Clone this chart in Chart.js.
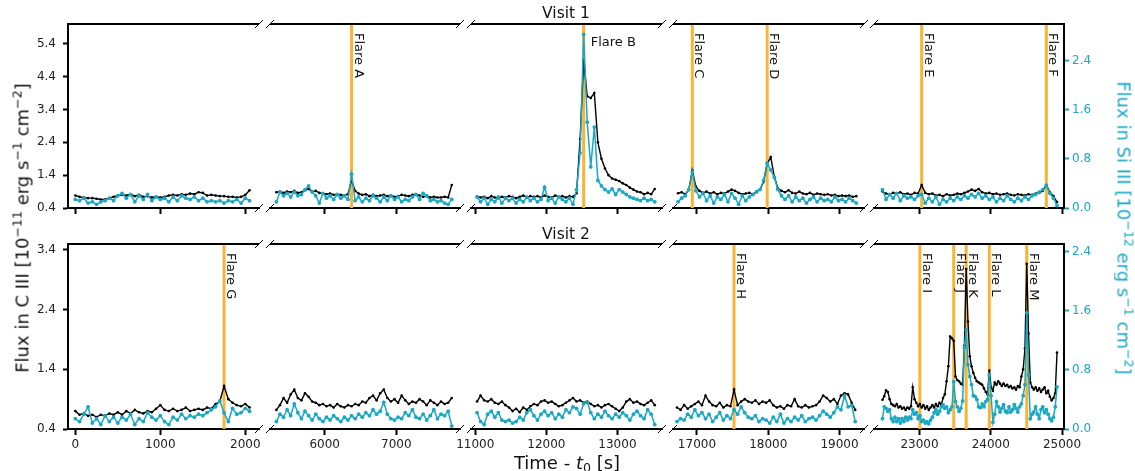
<!DOCTYPE html>
<html>
<head>
<meta charset="utf-8">
<script src="https://cdn.jsdelivr.net/npm/chart.js@4.4.0/dist/chart.umd.min.js"></script>
<style>
body { margin: 0; background: #fff; width: 1135px; height: 471px; position: relative; overflow: hidden; font-family: 'DejaVu Sans', sans-serif; }
canvas { position: absolute; }
.lbl { position: absolute; white-space: nowrap; color: #111; transform: translate(-50%, -50%); z-index: 5; }
sup { font-size: 70%; vertical-align: 0.55em; line-height: 0; }
sub { font-size: 70%; vertical-align: -0.25em; line-height: 0; }
</style>
</head>
<body>
<div class="lbl" style="left:566px;top:13px;font-size:15.5px">Visit 1</div>
<div class="lbl" style="left:566px;top:234px;font-size:15.5px">Visit 2</div>
<div class="lbl" style="left:567px;top:462px;font-size:18px">Time - <i>t</i><sub>0</sub> [s]</div>
<div class="lbl" style="left:22px;top:228px;font-size:18px;transform:translate(-50%,-50%) rotate(-90deg)">Flux in C III [10<sup>−11</sup> erg s<sup>−1</sup> cm<sup>−2</sup>]</div>
<div class="lbl" style="left:1124px;top:228px;font-size:18px;color:#18a8c4;transform:translate(-50%,-50%) rotate(90deg)">Flux in Si III [10<sup>−12</sup> erg s<sup>−1</sup> cm<sup>−2</sup>]</div>
<script>
const CYAN = '#18a8c4';
const ORANGE = '#fbb336';

// time grid of every light-curve segment, seconds after t0
const segStartV1 = [0, 5325, 11025, 16735, 22480];
const segStepV1 = [50, 50, 50, 50, 50];
const segStartV2 = [0, 5325, 11025, 16720, 22480];
const segStepV2 = [50, 50, 50, 50, 25];

// broken x axis: limits and ticks of the five pieces
const xMin = [-86, 5236, 10940, 16664, 22361];
const xMax = [2161, 7890, 13627, 19343, 25028];
const xTicks = [[0, 1000, 2000], [6000, 7000], [11000, 12000, 13000], [17000, 18000, 19000], [23000, 24000, 25000]];

const yLeftMin = [0.4, 0.4];
const yLeftMax = [6.0, 3.5];
const yLeftTicks = [[0.4, 1.4, 2.4, 3.4, 4.4, 5.4], [0.4, 1.4, 2.4, 3.4]];
const yRightMax = [3.0, 2.5];
const yRightTicks = [0, 0.8, 1.6, 2.4];

const flareNamesV1 = ['A', 'B', 'C', 'D', 'E', 'F'];
const flareTimesV1 = [6375, 12525, 16935, 17985, 23030, 24780];
const flareNamesV2 = ['G', 'H', 'I', 'J', 'K', 'L', 'M'];
const flareTimesV2 = [1750, 17520, 23005, 23480, 23655, 23980, 24505];
const flareHorizontal = ['B'];

// Visit 1, C III (1e-11)
const c3V1a = [0.78,0.74,0.72,0.70,0.70,0.68,0.66,0.66,0.70,0.74,0.78,0.80,0.78,0.82,0.76,0.80,0.74,0.76,0.72,0.74,
  0.72,0.74,0.78,0.80,0.78,0.82,0.80,0.84,0.82,0.88,0.86,0.78,0.80,0.78,0.76,0.76,0.74,0.74,0.72,0.74,0.80,0.94];
const c3V1b = [0.88,0.90,0.86,0.90,0.88,0.92,0.86,0.88,0.94,0.98,0.90,0.92,0.86,0.84,0.82,0.84,0.80,0.82,0.80,0.78,
  0.82,1.25,0.92,0.84,0.80,0.82,0.76,0.80,0.76,0.78,0.80,0.76,0.78,0.74,0.76,0.80,0.78,0.76,0.80,0.82,
  0.78,0.74,0.76,0.72,0.74,0.72,0.72,0.74,0.72,1.10];
const c3V1c = [0.75,0.72,0.74,0.70,0.76,0.72,0.70,0.74,0.72,0.76,0.74,0.70,0.74,0.78,0.72,0.76,0.74,0.76,0.72,0.78,
  0.74,0.72,0.78,0.74,0.76,0.72,0.76,0.74,0.85,2.50,4.90,3.80,3.75,3.90,2.40,1.90,1.60,1.40,1.30,1.26,
  1.22,1.15,1.10,1.02,0.96,0.90,0.88,0.82,0.86,0.82,0.98];
const c3V1d = [0.85,0.88,0.82,0.95,1.55,1.05,0.92,0.86,0.90,0.84,0.88,0.82,0.86,0.84,0.90,0.96,0.92,0.86,0.82,0.84,
  0.86,0.82,0.90,0.96,1.20,1.75,1.95,1.35,1.00,0.92,0.88,0.94,0.86,0.84,0.90,0.84,0.82,0.86,0.80,0.84,
  0.82,0.80,0.82,0.78,0.80,0.76,0.78,0.76,0.78,0.74,0.76];
const c3V1e = [0.90,0.84,0.82,0.86,0.84,0.88,0.82,0.84,0.80,0.86,0.84,1.10,0.86,0.82,0.84,0.78,0.80,0.76,0.82,0.78,
  0.80,0.84,0.82,0.86,0.90,0.96,0.92,0.98,0.88,0.84,0.86,0.82,0.84,0.80,0.82,0.84,0.80,0.78,0.82,0.80,
  0.78,0.82,0.80,0.84,0.86,0.92,1.10,0.88,0.76,0.58];

// Visit 1, Si III (1e-12)
const siV1a = [0.14,0.12,0.16,0.08,0.10,0.06,0.10,0.12,0.16,0.12,0.20,0.24,0.16,0.22,0.10,0.20,0.14,0.22,0.12,0.18,
  0.14,0.16,0.10,0.18,0.12,0.20,0.16,0.14,0.18,0.12,0.16,0.10,0.12,0.10,0.12,0.08,0.12,0.10,0.14,0.08,0.16,0.12];
const siV1b = [0.10,0.26,0.20,0.24,0.18,0.26,0.20,0.22,0.30,0.36,0.26,0.20,0.08,0.24,0.16,0.20,0.14,0.22,0.16,0.20,
  0.14,0.55,0.12,0.18,0.10,0.16,0.12,0.20,0.16,0.10,0.18,0.12,0.20,0.14,0.18,0.10,0.14,0.12,0.18,0.22,
  0.14,0.24,0.20,0.12,0.14,0.10,0.12,0.08,0.06,0.14];
const siV1c = [0.18,0.10,0.16,0.06,0.14,0.10,0.18,0.08,0.16,0.12,0.16,0.08,0.14,0.10,0.18,0.12,0.16,0.10,0.14,0.34,
  0.12,0.16,0.08,0.18,0.14,0.10,0.16,0.06,0.30,0.90,2.83,1.40,0.67,1.32,0.45,0.36,0.30,0.26,0.31,0.22,
  0.30,0.26,0.22,0.18,0.16,0.14,0.12,0.16,0.12,0.14,0.10];
const siV1d = [0.10,0.16,0.20,0.30,0.59,0.28,0.18,0.24,0.12,0.20,0.08,0.18,0.14,0.22,0.10,0.24,0.16,0.06,0.20,0.12,
  0.18,0.22,0.26,0.30,0.45,0.73,0.62,0.50,0.30,0.20,0.14,0.20,0.10,0.18,0.12,0.16,0.08,0.14,0.18,0.10,
  0.16,0.12,0.14,0.10,0.18,0.12,0.14,0.10,0.16,0.12,0.08];
const siV1e = [0.30,0.14,0.22,0.16,0.24,0.12,0.20,0.16,0.18,0.14,0.20,0.22,0.08,0.16,0.10,0.18,0.06,0.14,0.10,0.16,
  0.12,0.18,0.14,0.20,0.16,0.22,0.18,0.24,0.16,0.20,0.14,0.18,0.10,0.16,0.12,0.20,0.14,0.10,0.16,0.12,
  0.18,0.14,0.20,0.22,0.26,0.30,0.37,0.24,0.16,0.04];

// Visit 2, C III
const c3V2a = [0.70,0.64,0.66,0.62,0.64,0.60,0.64,0.62,0.66,0.64,0.68,0.64,0.70,0.66,0.72,0.68,0.66,0.70,0.68,0.74,
  0.80,0.72,0.70,0.74,0.70,0.72,0.76,0.70,0.72,0.74,0.72,0.76,0.74,0.82,0.86,1.12,0.90,0.84,0.80,0.78,0.82,0.76];
const c3V2b = [0.72,0.80,0.92,0.84,0.98,1.06,0.92,0.88,1.00,0.94,0.86,0.84,0.80,0.82,0.78,0.80,0.76,0.82,0.78,0.76,
  0.80,0.78,0.82,0.80,0.86,0.84,0.92,0.96,0.88,1.00,1.06,0.92,0.86,0.90,0.84,0.96,0.88,0.82,0.86,0.84,
  0.90,0.86,0.80,0.88,0.84,0.80,0.86,0.82,0.84,0.92];
const c3V2c = [0.86,0.96,0.88,0.86,0.90,0.84,0.82,0.86,0.80,0.76,0.70,0.74,0.68,0.76,0.72,0.78,0.82,0.80,0.86,0.88,
  0.84,0.86,0.82,0.78,0.80,0.84,0.88,0.92,0.86,0.88,0.84,0.86,0.82,0.78,0.80,0.76,0.80,0.82,0.78,0.74,
  0.70,0.76,0.86,0.90,0.84,0.86,0.82,0.80,0.84,0.88,0.80];
const c3V2d = [0.76,0.72,0.80,0.74,0.78,0.82,0.86,0.80,0.96,0.86,0.80,0.78,0.84,0.76,0.80,0.78,1.06,0.80,0.86,0.90,
  0.86,0.84,0.88,0.82,0.86,0.84,0.88,0.80,0.76,0.78,0.74,0.80,0.78,0.90,0.78,0.76,0.80,0.76,0.78,0.80,
  0.86,0.96,0.92,0.86,0.90,0.82,0.96,1.00,0.98,0.84,0.72];
const c3V2e = [0.89,0.95,1.05,1.02,0.90,0.82,0.80,0.78,0.82,0.76,0.78,0.74,0.76,0.72,0.76,0.74,0.78,1.10,0.90,0.84,
  0.78,0.82,0.76,0.80,0.74,0.78,0.72,0.76,0.80,0.76,0.82,0.78,0.84,0.80,0.92,0.98,1.20,1.45,1.95,1.92,
  1.88,1.28,1.22,1.20,1.16,1.14,1.80,3.08,2.20,1.62,1.45,1.34,1.26,1.20,1.18,1.16,1.14,1.08,1.02,0.98,
  1.38,1.10,1.04,1.18,1.14,1.20,1.16,1.12,1.16,1.12,1.14,1.10,1.12,1.08,1.10,1.06,1.12,1.10,1.28,1.40,
  1.75,3.17,2.00,1.18,1.10,1.06,1.10,1.04,1.08,1.02,1.06,1.10,1.00,1.04,0.94,0.88,0.92,1.00,1.68];

// Visit 2, Si III
const siV2a = [0.14,0.10,0.20,0.30,0.08,0.14,0.06,0.18,0.10,0.16,0.08,0.16,0.12,0.20,0.06,0.14,0.10,0.22,0.16,0.12,
  0.18,0.10,0.06,0.16,0.12,0.20,0.14,0.18,0.16,0.20,0.18,0.22,0.26,0.30,0.38,0.22,0.10,0.28,0.20,0.22,0.28,0.24];
const siV2b = [0.10,0.20,0.16,0.26,0.18,0.34,0.22,0.14,0.24,0.18,0.12,0.20,0.14,0.10,0.16,0.12,0.18,0.14,0.10,0.16,
  0.12,0.18,0.14,0.20,0.16,0.22,0.18,0.26,0.20,0.24,0.36,0.20,0.14,0.12,0.16,0.14,0.22,0.18,0.26,0.16,
  0.14,0.20,0.12,0.18,0.26,0.14,0.20,0.18,0.24,0.04];
const siV2c = [0.22,0.10,0.06,0.20,0.24,0.16,0.22,0.12,0.10,0.12,0.08,0.10,0.16,0.12,0.22,0.26,0.18,0.12,0.20,0.24,
  0.18,0.22,0.14,0.20,0.16,0.26,0.22,0.30,0.28,0.20,0.34,0.36,0.22,0.14,0.20,0.16,0.24,0.18,0.14,0.20,
  0.16,0.22,0.18,0.12,0.20,0.24,0.18,0.14,0.26,0.20,0.06];
const siV2d = [0.10,0.14,0.12,0.20,0.16,0.26,0.18,0.22,0.14,0.20,0.10,0.16,0.22,0.12,0.18,0.14,0.26,0.20,0.30,0.22,
  0.16,0.14,0.18,0.10,0.14,0.12,0.08,0.16,0.10,0.20,0.08,0.14,0.10,0.16,0.12,0.18,0.10,0.14,0.16,0.12,
  0.18,0.24,0.20,0.16,0.22,0.30,0.26,0.45,0.30,0.32,0.10];
const siV2e = [0.14,0.30,0.28,0.24,0.26,0.14,0.10,0.16,0.10,0.14,0.08,0.14,0.10,0.16,0.12,0.16,0.14,0.26,0.20,0.22,
  0.14,0.18,0.10,0.12,0.08,0.10,0.07,0.12,0.16,0.22,0.26,0.20,0.24,0.30,0.33,0.28,0.30,0.22,0.26,0.30,
  0.64,0.37,0.30,0.24,0.28,0.38,1.10,1.34,0.87,0.71,0.60,0.45,0.44,0.40,0.30,0.29,0.34,0.30,0.37,0.40,
  0.73,0.45,0.09,0.20,0.37,0.30,0.23,0.28,0.33,0.24,0.22,0.30,0.23,0.26,0.33,0.28,0.23,0.30,0.34,0.45,
  0.60,1.57,0.73,0.14,0.20,0.23,0.30,0.20,0.14,0.26,0.30,0.22,0.26,0.20,0.14,0.11,0.16,0.30,0.57];

const visits = [
  { c3: [c3V1a, c3V1b, c3V1c, c3V1d, c3V1e], si: [siV1a, siV1b, siV1c, siV1d, siV1e],
    start: segStartV1, step: segStepV1, flareNames: flareNamesV1, flareTimes: flareTimesV1 },
  { c3: [c3V2a, c3V2b, c3V2c, c3V2d, c3V2e], si: [siV2a, siV2b, siV2c, siV2d, siV2e],
    start: segStartV2, step: segStepV2, flareNames: flareNamesV2, flareTimes: flareTimesV2 }
];

// page layout of the panels
const panelLeft = [68, 270, 471, 673, 874];
const panelRight = [259, 460, 662, 864, 1064];
const rowTop = [24, 244];
const rowBottom = [208, 429];

function toPoints(vals, t0, dt) {
  return vals.map((v, i) => ({ x: t0 + i * dt, y: v }));
}

const deco = {
  id: 'deco',
  beforeDatasetsDraw(chart, args, o) {
    const { ctx, chartArea: a } = chart;
    const xs = chart.scales.x;
    ctx.save();
    ctx.strokeStyle = ORANGE;
    ctx.lineWidth = 3;
    o.times.forEach(t => {
      if (t < xs.min || t > xs.max) return;
      const x = xs.getPixelForValue(t);
      ctx.beginPath(); ctx.moveTo(x, a.top); ctx.lineTo(x, a.bottom); ctx.stroke();
    });
    ctx.restore();
  },
  afterDatasetsDraw(chart, args, o) {
    const { ctx, chartArea: a } = chart;
    const xs = chart.scales.x;
    ctx.save();
    // flare labels
    ctx.fillStyle = '#111';
    ctx.font = '13px "DejaVu Sans"';
    o.times.forEach((t, i) => {
      if (t < xs.min || t > xs.max) return;
      const x = xs.getPixelForValue(t);
      const txt = 'Flare ' + o.names[i];
      if (flareHorizontal.includes(o.names[i])) {
        ctx.textAlign = 'left'; ctx.textBaseline = 'middle';
        ctx.fillText(txt, x + 7, a.top + 19);
      } else {
        ctx.save();
        ctx.translate(x + 3, a.top + 9);
        ctx.rotate(Math.PI / 2);
        ctx.textAlign = 'left'; ctx.textBaseline = 'alphabetic';
        ctx.fillText(txt, 0, 0);
        ctx.restore();
      }
    });
    // top spine
    ctx.strokeStyle = '#000';
    ctx.lineWidth = 2;
    ctx.beginPath();
    ctx.moveTo(a.left - (o.first ? 1 : 0), a.top);
    ctx.lineTo(a.right + (o.last ? 1 : 0), a.top);
    ctx.stroke();
    // break marks
    ctx.lineWidth = 1;
    const d = 4;
    const marks = [];
    if (!o.first) marks.push(a.left);
    if (!o.last) marks.push(a.right);
    marks.forEach(x => {
      [a.top, a.bottom].forEach(y => {
        ctx.beginPath(); ctx.moveTo(x - d, y + d); ctx.lineTo(x + d, y - d); ctx.stroke();
      });
    });
    ctx.restore();
  }
};

function makePanel(r, p) {
  const vis = visits[r];
  const first = p === 0, last = p === 4;
  const ml = first ? 68 : 24;
  const mr = last ? 70 : 24;
  const mt = 20;
  const xh = r === 1 ? 30 : 20;
  const cv = document.createElement('canvas');
  const w = panelRight[p] - panelLeft[p] + ml + mr;
  const h = rowBottom[r] - rowTop[r] + mt + xh;
  cv.width = w; cv.height = h;
  cv.style.width = w + 'px'; cv.style.height = h + 'px';
  cv.style.left = (panelLeft[p] - ml) + 'px';
  cv.style.top = (rowTop[r] - mt) + 'px';
  document.body.appendChild(cv);

  new Chart(cv, {
    type: 'line',
    data: {
      datasets: [
        { label: 'Si III', data: toPoints(vis.si[p], vis.start[p], vis.step[p]), yAxisID: 'yR',
          borderColor: CYAN, backgroundColor: CYAN, borderWidth: 1.5, pointRadius: 1.9, pointBorderWidth: 0,
          pointBackgroundColor: CYAN, order: 0 },
        { label: 'C III', data: toPoints(vis.c3[p], vis.start[p], vis.step[p]), yAxisID: 'yL',
          borderColor: '#000', backgroundColor: '#000', borderWidth: 1.4, pointRadius: 1.3, pointBorderWidth: 0,
          pointBackgroundColor: '#000', order: 1 }
      ]
    },
    options: {
      responsive: false,
      animation: false,
      devicePixelRatio: 1,
      events: [],
      layout: { autoPadding: false, padding: { left: first ? 0 : ml, right: last ? 0 : mr, top: mt, bottom: 0 } },
      plugins: {
        legend: { display: false },
        tooltip: { enabled: false },
        deco: { names: vis.flareNames, times: vis.flareTimes, first: first, last: last }
      },
      scales: {
        x: {
          type: 'linear', min: xMin[p], max: xMax[p],
          afterBuildTicks: s => { s.ticks = xTicks[p].map(v => ({ value: v })); },
          afterFit: s => { s.height = xh; },
          grid: { drawOnChartArea: false, tickLength: 6, tickWidth: 2, tickColor: '#000' },
          border: { display: true, width: 2, color: '#000' },
          ticks: { display: r === 1, color: '#222', font: { size: 12 }, padding: 3, maxRotation: 0, autoSkip: false,
            callback: v => String(v) }
        },
        yL: {
          type: 'linear', position: 'left', display: first,
          min: yLeftMin[r], max: yLeftMax[r],
          afterBuildTicks: s => { s.ticks = yLeftTicks[r].map(v => ({ value: v })); },
          afterFit: s => { s.width = first ? 68 : 0; },
          grid: { drawOnChartArea: false, tickLength: 5, tickWidth: 2, tickColor: '#000' },
          border: { display: true, width: 2, color: '#000' },
          ticks: { color: '#222', font: { size: 12 }, padding: 7, autoSkip: false, callback: v => v.toFixed(1) }
        },
        yR: {
          type: 'linear', position: 'right', display: last,
          min: 0, max: yRightMax[r],
          afterBuildTicks: s => { s.ticks = yRightTicks.map(v => ({ value: v })); },
          afterFit: s => { s.width = last ? 70 : 0; },
          grid: { drawOnChartArea: false, tickLength: 5, tickWidth: 2, tickColor: CYAN },
          border: { display: true, width: 2, color: '#000' },
          ticks: { color: CYAN, font: { size: 12 }, padding: 3, autoSkip: false, callback: v => v.toFixed(1) }
        }
      }
    },
    plugins: [deco]
  });
}

Chart.defaults.font.family = '"DejaVu Sans", sans-serif';
for (let r = 0; r < 2; r++) {
  for (let p = 0; p < 5; p++) makePanel(r, p);
}
</script>
</body>
</html>
